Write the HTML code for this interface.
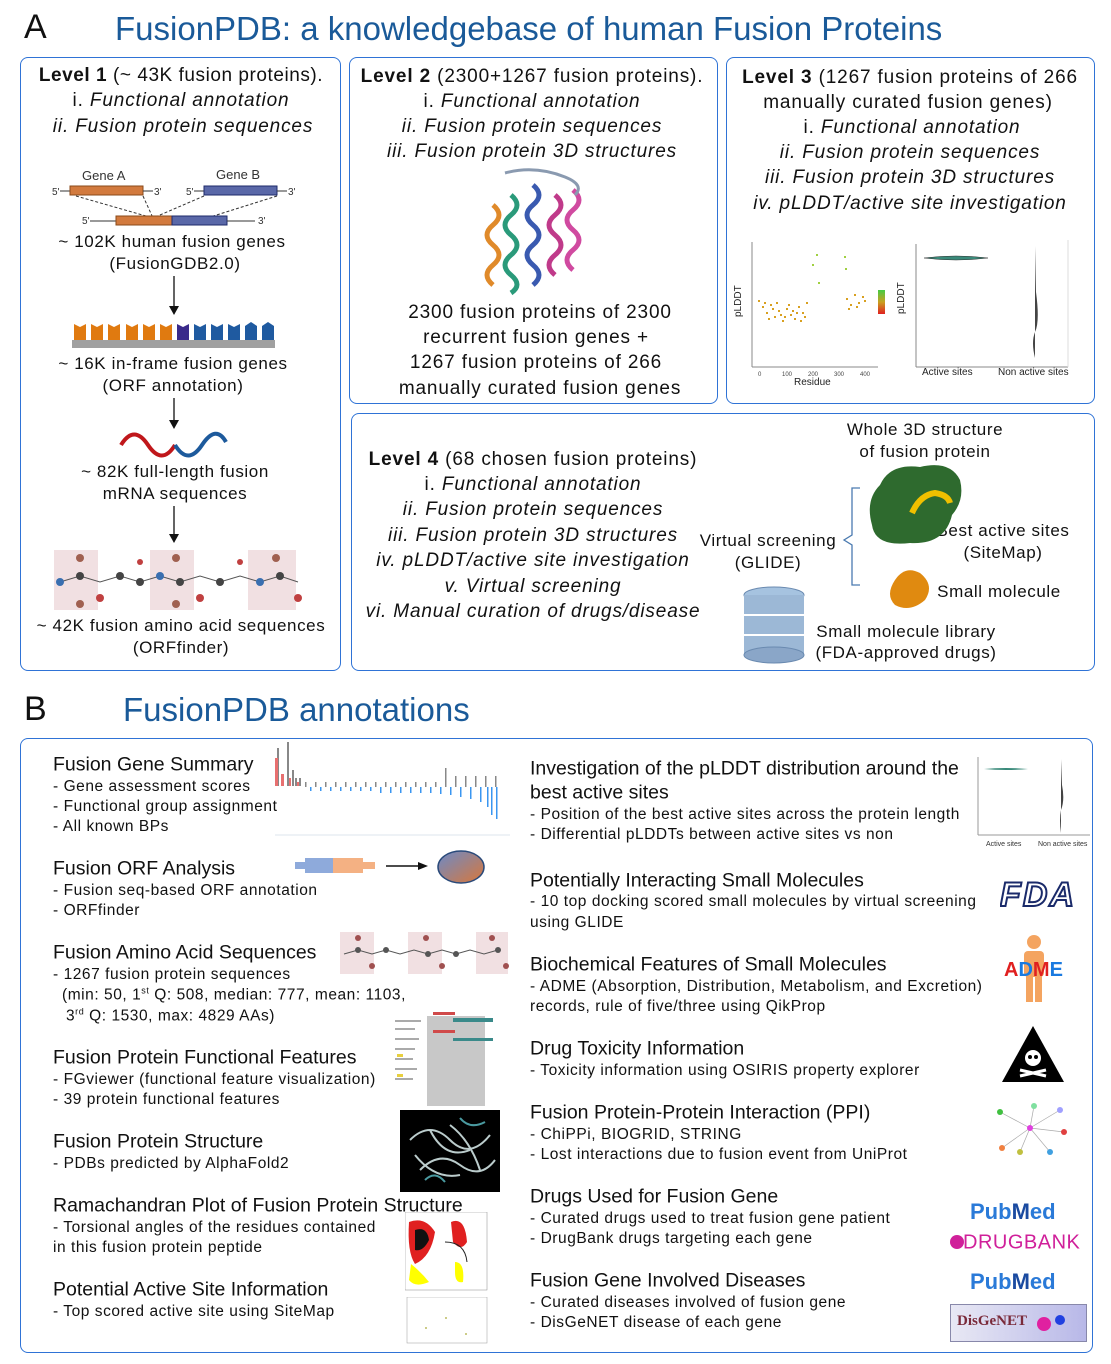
<!DOCTYPE html>
<html><head><meta charset="utf-8"><style>
body{margin:0;width:1111px;height:1364px;background:#fff;position:relative;overflow:hidden;font-family:"Liberation Sans",sans-serif;color:#111}
.p{position:absolute;border:1.5px solid #2f73d6;border-radius:8px;box-sizing:border-box}
.c{position:absolute;white-space:nowrap;transform:translate(-50%,-50%);font-size:19px;letter-spacing:.85px}
.m{font-size:17px!important;letter-spacing:.6px}
.n{font-size:17px!important;letter-spacing:.6px}
.l{position:absolute;white-space:nowrap;transform:translateY(-50%)}
.h{font-size:19.5px}
.s{font-size:15.5px;letter-spacing:.55px}
i{font-style:italic}
.big{position:absolute;font-size:34px;color:#111}
.ttl{position:absolute;font-size:33px;color:#1a5a99;white-space:nowrap;transform:translateY(-50%)}
svg{position:absolute}
</style></head><body>
<div class="big" style="left:24px;top:8px">A</div>
<div class="ttl" style="left:115px;top:29px">FusionPDB: a knowledgebase of human Fusion Proteins</div>
<div class="big" style="left:24px;top:690px">B</div>
<div class="ttl" style="left:123px;top:710px">FusionPDB annotations</div>

<div class="p" style="left:20px;top:57px;width:321px;height:614px"></div>
<div class="p" style="left:349px;top:57px;width:369px;height:347px"></div>
<div class="p" style="left:726px;top:57px;width:369px;height:347px"></div>
<div class="p" style="left:351px;top:413px;width:744px;height:258px"></div>
<div class="p" style="left:20px;top:738px;width:1073px;height:615px"></div>

<!-- panel 1 -->
<div class="c" style="left:181px;top:76px;letter-spacing:.55px"><b>Level 1</b> (~ 43K fusion proteins).</div>
<div class="c" style="left:181px;top:101px">i. <i>Functional annotation</i></div>
<div class="c" style="left:183px;top:127px"><i>ii. Fusion protein sequences</i></div>
<svg style="left:40px;top:160px" width="280" height="70">
<text x="42" y="20" font-size="13" fill="#333" font-family="Liberation Sans">Gene A</text>
<text x="176" y="19" font-size="13" fill="#333" font-family="Liberation Sans">Gene B</text>
<text x="12" y="35" font-size="10" fill="#333">5'</text><line x1="20" y1="31" x2="30" y2="31" stroke="#333"/>
<rect x="30" y="26" width="73" height="9" fill="#d27a3e" stroke="#8a4a1a"/>
<line x1="103" y1="31" x2="113" y2="31" stroke="#333"/><text x="114" y="35" font-size="10" fill="#333">3'</text>
<text x="146" y="35" font-size="10" fill="#333">5'</text><line x1="154" y1="31" x2="164" y2="31" stroke="#333"/>
<rect x="164" y="26" width="73" height="9" fill="#5a68a8" stroke="#1e2a6a"/>
<line x1="237" y1="31" x2="247" y2="31" stroke="#333"/><text x="248" y="35" font-size="10" fill="#333">3'</text>
<path d="M36 36 L113 58 M103 36 L113 58 M164 36 L113 58 M237 36 L167 58" stroke="#333" stroke-dasharray="3,2" fill="none"/>
<text x="42" y="64" font-size="10" fill="#333">5'</text><line x1="50" y1="61" x2="76" y2="61" stroke="#333"/>
<rect x="76" y="56" width="56" height="9" fill="#d27a3e" stroke="#8a4a1a"/><rect x="132" y="56" width="55" height="9" fill="#5a68a8" stroke="#1e2a6a"/>
<line x1="187" y1="61" x2="215" y2="61" stroke="#333"/><text x="218" y="64" font-size="10" fill="#333">3'</text>
</svg>
<div class="c m" style="left:172px;top:242px">~ 102K human fusion genes</div>
<div class="c m" style="left:175px;top:264px">(FusionGDB2.0)</div>
<svg style="left:165px;top:274px" width="20" height="300">
<line x1="9" y1="2" x2="9" y2="34" stroke="#111" stroke-width="1.3"/><path d="M4 32 L14 32 L9 41Z" fill="#111"/>
<line x1="9" y1="124" x2="9" y2="148" stroke="#111" stroke-width="1.3"/><path d="M4 146 L14 146 L9 155Z" fill="#111"/>
<line x1="9" y1="232" x2="9" y2="262" stroke="#111" stroke-width="1.3"/><path d="M4 260 L14 260 L9 269Z" fill="#111"/>
</svg>
<svg style="left:70px;top:318px" width="210" height="32">
<rect x="2" y="22" width="203" height="8" fill="#a0a0a0"/>
<g fill="#e07a10"><path d="M4 6l6 3 6-3v16H4z"/><path d="M21 6l6 3 6-3v16H21z"/><path d="M38 6l6 3 6-3v16H38z"/><path d="M56 6l6 3 6-3v16H56z"/><path d="M73 6l6 3 6-3v16H73z"/><path d="M90 6l6 3 6-3v16H90z"/></g>
<path d="M107 6l6 3 6-3v16h-12z" fill="#3a2a8a"/>
<g fill="#1f5aa0"><path d="M124 6l6 3 6-3v16h-12z"/><path d="M141 6l6 3 6-3v16h-12z"/><path d="M158 6l6 3 6-3v16h-12z"/><path d="M175 8l6-4 6 4v14h-12z"/><path d="M192 8l6-4 6 4v14h-12z"/></g>
</svg>
<div class="c m" style="left:173px;top:364px">~ 16K in-frame fusion genes</div>
<div class="c m" style="left:173px;top:386px">(ORF annotation)</div>
<svg style="left:118px;top:428px" width="112" height="34"><path d="M3 17 Q16 -4 30 17 T57 17" stroke="#c0171b" stroke-width="4" fill="none"/><path d="M57 17 Q70 38 84 17 T108 14" stroke="#1d5a9c" stroke-width="4" fill="none"/></svg>
<div class="c m" style="left:175px;top:472px">~ 82K full-length fusion</div>
<div class="c m" style="left:175px;top:494px">mRNA sequences</div>
<svg style="left:52px;top:548px" width="250" height="64">
<rect x="2" y="2" width="44" height="60" fill="#f1e0e2"/><rect x="98" y="2" width="44" height="60" fill="#f1e0e2"/><rect x="196" y="2" width="48" height="60" fill="#f1e0e2"/>
<path d="M8 34 L28 28 L48 34 L68 28 L88 34 L108 28 L128 34 L148 28 L168 34 L188 28 L208 34 L228 28 L246 34" stroke="#555" fill="none"/>
<g fill="#444"><circle cx="28" cy="28" r="4"/><circle cx="68" cy="28" r="4"/><circle cx="128" cy="34" r="4"/><circle cx="168" cy="34" r="4"/><circle cx="228" cy="28" r="4"/><circle cx="88" cy="34" r="4"/></g>
<g fill="#3a6fb0"><circle cx="8" cy="34" r="4"/><circle cx="108" cy="28" r="4"/><circle cx="208" cy="34" r="4"/></g>
<g fill="#c04040"><circle cx="48" cy="50" r="4"/><circle cx="148" cy="50" r="4"/><circle cx="246" cy="50" r="4"/><circle cx="88" cy="14" r="3"/><circle cx="188" cy="14" r="3"/></g>
<g fill="#a06050"><circle cx="28" cy="10" r="4"/><circle cx="124" cy="10" r="4"/><circle cx="224" cy="10" r="4"/><circle cx="28" cy="56" r="4"/><circle cx="124" cy="56" r="4"/></g>
</svg>
<div class="c m" style="left:181px;top:626px">~ 42K fusion amino acid sequences</div>
<div class="c m" style="left:181px;top:648px">(ORFfinder)</div>

<!-- panel 2 -->
<div class="c" style="left:532px;top:77px"><b>Level 2</b> (2300+1267 fusion proteins).</div>
<div class="c" style="left:532px;top:102px">i. <i>Functional annotation</i></div>
<div class="c" style="left:532px;top:127px"><i>ii. Fusion protein sequences</i></div>
<div class="c" style="left:532px;top:152px"><i>iii. Fusion protein 3D structures</i></div>
<svg style="left:475px;top:165px" width="130" height="135">
<g fill="none" stroke-width="5">
<path d="M18 40 Q30 50 18 60 Q6 70 18 80 Q30 90 18 100 Q6 110 18 120" stroke="#e08a2a"/>
<path d="M36 30 Q48 40 36 50 Q24 60 36 70 Q48 80 36 90 Q24 100 36 110 Q48 120 36 128" stroke="#2a9a7a"/>
<path d="M58 20 Q70 30 58 40 Q46 50 58 60 Q70 70 58 80 Q46 90 58 100 Q70 110 58 120" stroke="#3a5ab0"/>
<path d="M80 30 Q92 40 80 50 Q68 60 80 70 Q92 80 80 90 Q68 100 80 110" stroke="#c03a8a"/>
<path d="M98 25 Q110 35 98 45 Q86 55 98 65 Q110 75 98 85 Q86 95 98 105" stroke="#d04aa0"/>
<path d="M30 8 Q60 0 90 12 Q110 20 100 30" stroke="#8a9ab0" stroke-width="3"/>
</g></svg>
<div class="c" style="left:540px;top:313px">2300 fusion proteins of 2300</div>
<div class="c" style="left:536px;top:338px">recurrent fusion genes +</div>
<div class="c" style="left:536px;top:363px">1267 fusion proteins of 266</div>
<div class="c" style="left:540px;top:389px">manually curated fusion genes</div>

<!-- panel 3 -->
<div class="c" style="left:910px;top:78px"><b>Level 3</b> (1267 fusion proteins of 266</div>
<div class="c" style="left:908px;top:103px">manually curated fusion genes)</div>
<div class="c" style="left:912px;top:128px">i. <i>Functional annotation</i></div>
<div class="c" style="left:910px;top:153px"><i>ii. Fusion protein sequences</i></div>
<div class="c" style="left:910px;top:178px"><i>iii. Fusion protein 3D structures</i></div>
<div class="c" style="left:910px;top:204px"><i>iv. pLDDT/active site investigation</i></div>
<svg style="left:728px;top:232px" width="360" height="160" font-family="Liberation Sans">
<line x1="24" y1="10" x2="24" y2="135" stroke="#888"/><line x1="24" y1="135" x2="150" y2="135" stroke="#888"/>
<text x="13" y="85" font-size="10" transform="rotate(-90 13 85)" fill="#222">pLDDT</text>
<text x="66" y="153" font-size="10" fill="#222">Residue</text>
<text x="30" y="144" font-size="6" fill="#444">0</text><text x="54" y="144" font-size="6" fill="#444">100</text><text x="80" y="144" font-size="6" fill="#444">200</text><text x="106" y="144" font-size="6" fill="#444">300</text><text x="132" y="144" font-size="6" fill="#444">400</text>
<g fill="#d8a020">
<rect x="30" y="68" width="2" height="2"/><rect x="34" y="74" width="2" height="2"/><rect x="38" y="80" width="2" height="2"/><rect x="42" y="72" width="2" height="2"/><rect x="46" y="84" width="2" height="2"/><rect x="50" y="78" width="2" height="2"/><rect x="54" y="88" width="2" height="2"/><rect x="58" y="76" width="2" height="2"/><rect x="62" y="82" width="2" height="2"/><rect x="66" y="86" width="2" height="2"/><rect x="70" y="74" width="2" height="2"/><rect x="74" y="80" width="2" height="2"/><rect x="78" y="70" width="2" height="2"/><rect x="36" y="70" width="2" height="2"/><rect x="44" y="76" width="2" height="2"/><rect x="52" y="82" width="2" height="2"/><rect x="60" y="72" width="2" height="2"/><rect x="68" y="80" width="2" height="2"/><rect x="76" y="84" width="2" height="2"/><rect x="40" y="86" width="2" height="2"/><rect x="48" y="70" width="2" height="2"/><rect x="56" y="84" width="2" height="2"/><rect x="64" y="78" width="2" height="2"/><rect x="72" y="88" width="2" height="2"/>
<rect x="118" y="66" width="2" height="2"/><rect x="122" y="72" width="2" height="2"/><rect x="126" y="62" width="2" height="2"/><rect x="130" y="70" width="2" height="2"/><rect x="134" y="64" width="2" height="2"/><rect x="120" y="76" width="2" height="2"/><rect x="128" y="74" width="2" height="2"/><rect x="136" y="68" width="2" height="2"/>
</g>
<g fill="#a0d040"><rect x="84" y="32" width="2" height="2"/><rect x="88" y="22" width="2" height="2"/><rect x="90" y="50" width="2" height="2"/><rect x="116" y="24" width="2" height="2"/><rect x="117" y="36" width="2" height="2"/></g>
<rect x="150" y="58" width="7" height="24" fill="url(#g1)"/>
<defs><linearGradient id="g1" x1="0" y1="0" x2="0" y2="1"><stop offset="0" stop-color="#4c4"/><stop offset=".5" stop-color="#c9a020"/><stop offset="1" stop-color="#e02020"/></linearGradient></defs>
<line x1="188" y1="12" x2="188" y2="135" stroke="#888"/><line x1="188" y1="135" x2="340" y2="135" stroke="#888"/><line x1="340" y1="8" x2="340" y2="135" stroke="#ddd"/>
<text x="176" y="82" font-size="10" transform="rotate(-90 176 82)" fill="#222">pLDDT</text>
<path d="M196 26 Q228 22 260 26 Q228 30 196 26Z" fill="#3a8a7a" stroke="#333" stroke-width=".5"/>
<path d="M307 14 L308 60 Q312 90 307 100 Q303 110 307 126 Z" fill="#444"/>
<text x="194" y="143" font-size="10" fill="#222">Active sites</text><text x="270" y="143" font-size="10" fill="#222">Non active sites</text>
</svg>

<!-- panel 4 -->
<div class="c" style="left:533px;top:460px"><b>Level 4</b> (68 chosen fusion proteins)</div>
<div class="c" style="left:533px;top:485px">i. <i>Functional annotation</i></div>
<div class="c" style="left:533px;top:510px"><i>ii. Fusion protein sequences</i></div>
<div class="c" style="left:533px;top:536px"><i>iii. Fusion protein 3D structures</i></div>
<div class="c" style="left:533px;top:561px"><i>iv. pLDDT/active site investigation</i></div>
<div class="c" style="left:533px;top:587px"><i>v. Virtual screening</i></div>
<div class="c" style="left:533px;top:612px"><i>vi. Manual curation of drugs/disease</i></div>
<div class="c n" style="left:768px;top:541px">Virtual screening</div>
<div class="c n" style="left:768px;top:563px">(GLIDE)</div>
<div class="c n" style="left:925px;top:430px">Whole 3D structure</div>
<div class="c n" style="left:925px;top:452px">of fusion protein</div>
<div class="c n" style="left:1003px;top:531px">Best active sites</div>
<div class="c n" style="left:1003px;top:553px">(SiteMap)</div>
<div class="c n" style="left:999px;top:592px">Small molecule</div>
<div class="c n" style="left:906px;top:632px">Small molecule library</div>
<div class="c n" style="left:906px;top:653px">(FDA-approved drugs)</div>
<svg style="left:740px;top:455px" width="240" height="215">
<path d="M120 33 L112 33 L112 80 L104 85 L112 90 L112 130 L120 130" stroke="#4a7ab0" fill="none" stroke-width="1.3"/>
<path d="M140 30 Q150 8 180 12 Q210 5 220 25 Q225 45 212 60 Q205 90 170 88 Q135 92 132 70 Q125 45 140 30Z" fill="#2e6a2e"/>
<path d="M172 58 Q180 40 195 38 Q208 40 210 48" stroke="#f0c000" stroke-width="6" fill="none"/>
<path d="M155 125 Q165 110 180 118 Q195 130 185 145 Q170 158 155 150 Q145 140 155 125Z" fill="#e08a10"/>
<ellipse cx="34" cy="140" rx="30" ry="8" fill="#a6c3e0" stroke="#6a8ab0"/>
<rect x="4" y="140" width="60" height="60" fill="#9cb8d6"/>
<g stroke="#fff" stroke-width="2"><line x1="4" y1="160" x2="64" y2="160"/><line x1="4" y1="180" x2="64" y2="180"/></g>
<ellipse cx="34" cy="200" rx="30" ry="8" fill="#8aa6c8" stroke="#6a8ab0"/>
</svg>

<!-- B left -->
<div class="l h" style="left:53px;top:765px">Fusion Gene Summary</div>
<div class="l s" style="left:53px;top:787px">- Gene assessment scores</div>
<div class="l s" style="left:53px;top:807px">- Functional group assignment</div>
<div class="l s" style="left:53px;top:827px">- All known BPs</div>
<div class="l h" style="left:53px;top:869px">Fusion ORF Analysis</div>
<div class="l s" style="left:53px;top:891px">- Fusion seq-based ORF annotation</div>
<div class="l s" style="left:53px;top:911px">- ORFfinder</div>
<div class="l h" style="left:53px;top:953px">Fusion Amino Acid Sequences</div>
<div class="l s" style="left:53px;top:975px">- 1267 fusion protein sequences</div>
<div class="l s" style="left:62px;top:995px">(min: 50, 1<sup style="font-size:9px">st</sup> Q: 508, median: 777, mean: 1103,</div>
<div class="l s" style="left:66px;top:1016px">3<sup style="font-size:9px">rd</sup> Q: 1530, max: 4829 AAs)</div>
<div class="l h" style="left:53px;top:1058px">Fusion Protein Functional Features</div>
<div class="l s" style="left:53px;top:1080px">- FGviewer (functional feature visualization)</div>
<div class="l s" style="left:53px;top:1100px">- 39 protein functional features</div>
<div class="l h" style="left:53px;top:1142px">Fusion Protein Structure</div>
<div class="l s" style="left:53px;top:1164px">- PDBs predicted by AlphaFold2</div>
<div class="l h" style="left:53px;top:1206px">Ramachandran Plot of Fusion Protein Structure</div>
<div class="l s" style="left:53px;top:1228px">- Torsional angles of the residues contained</div>
<div class="l s" style="left:53px;top:1248px">in this fusion protein peptide</div>
<div class="l h" style="left:53px;top:1290px">Potential Active Site Information</div>
<div class="l s" style="left:53px;top:1312px">- Top scored active site using SiteMap</div>

<svg style="left:275px;top:740px" width="240" height="100">
<line x1="0" y1="95" x2="235" y2="95" stroke="#dde4ee"/>
<g fill="#888"><rect x="2" y="8" width="2" height="38"/><rect x="12" y="2" width="2" height="44"/><rect x="17" y="30" width="2" height="16"/><rect x="20" y="38" width="2" height="8"/><rect x="24" y="38" width="2" height="8"/></g>
<g fill="#e87070"><rect x="0" y="18" width="3" height="28"/><rect x="6" y="34" width="3" height="12"/><rect x="14" y="38" width="2" height="8"/><rect x="22" y="42" width="2" height="4"/></g>
<g fill="#888">
<rect x="30" y="42" width="1.5" height="5"/><rect x="40" y="42" width="1.5" height="5"/><rect x="50" y="42" width="1.5" height="5"/><rect x="60" y="42" width="1.5" height="5"/><rect x="70" y="42" width="1.5" height="5"/><rect x="80" y="42" width="1.5" height="5"/><rect x="90" y="42" width="1.5" height="5"/><rect x="100" y="42" width="1.5" height="5"/><rect x="110" y="42" width="1.5" height="5"/><rect x="120" y="42" width="1.5" height="5"/><rect x="130" y="42" width="1.5" height="5"/><rect x="140" y="42" width="1.5" height="5"/><rect x="150" y="42" width="1.5" height="5"/><rect x="160" y="42" width="1.5" height="5"/><rect x="170" y="28" width="1.5" height="19"/><rect x="180" y="36" width="1.5" height="11"/><rect x="190" y="36" width="1.5" height="11"/><rect x="200" y="36" width="1.5" height="11"/><rect x="210" y="36" width="1.5" height="11"/><rect x="220" y="36" width="1.5" height="11"/></g>
<g fill="#3a96f0">
<rect x="35" y="47" width="1.5" height="4"/><rect x="45" y="47" width="1.5" height="4"/><rect x="55" y="47" width="1.5" height="4"/><rect x="65" y="47" width="1.5" height="4"/><rect x="75" y="47" width="1.5" height="4"/><rect x="85" y="47" width="1.5" height="4"/><rect x="95" y="47" width="1.5" height="4"/><rect x="105" y="47" width="1.5" height="6"/><rect x="115" y="47" width="1.5" height="6"/><rect x="125" y="47" width="1.5" height="6"/><rect x="135" y="47" width="1.5" height="6"/><rect x="145" y="47" width="1.5" height="6"/><rect x="155" y="47" width="1.5" height="6"/><rect x="165" y="47" width="1.5" height="7"/><rect x="175" y="47" width="1.5" height="8"/><rect x="185" y="47" width="1.5" height="10"/><rect x="195" y="47" width="1.5" height="12"/><rect x="205" y="47" width="1.5" height="15"/><rect x="212" y="47" width="1.5" height="20"/><rect x="216" y="47" width="1.5" height="28"/><rect x="221" y="47" width="1.5" height="32"/></g>
</svg>
<svg style="left:290px;top:848px" width="200" height="40">
<rect x="5" y="14" width="10" height="7" fill="#8eaadb"/><rect x="15" y="10" width="28" height="15" fill="#8eaadb"/><rect x="43" y="10" width="30" height="15" fill="#f4b183"/><rect x="73" y="14" width="12" height="7" fill="#f4b183"/>
<line x1="96" y1="18" x2="130" y2="18" stroke="#111" stroke-width="1.5"/><path d="M128 14 L138 18 L128 22Z" fill="#111"/>
<defs><linearGradient id="g2" x1="0" y1="0" x2="1" y2="1"><stop offset="0" stop-color="#6b8bc9"/><stop offset="1" stop-color="#d9773a"/></linearGradient></defs>
<ellipse cx="171" cy="19" rx="23" ry="16" fill="url(#g2)" stroke="#2a4a7a" stroke-width="1.5"/>
</svg>
<svg style="left:340px;top:930px" width="170" height="46">
<rect x="0" y="2" width="34" height="42" fill="#f1e0e2"/><rect x="68" y="2" width="34" height="42" fill="#f1e0e2"/><rect x="136" y="2" width="32" height="42" fill="#f1e0e2"/>
<path d="M4 24 L18 20 L32 24 L46 20 L60 24 L74 20 L88 24 L102 20 L116 24 L130 20 L144 24 L158 20" stroke="#555" fill="none"/>
<g fill="#555"><circle cx="18" cy="20" r="3"/><circle cx="46" cy="20" r="3"/><circle cx="88" cy="24" r="3"/><circle cx="116" cy="24" r="3"/><circle cx="158" cy="20" r="3"/></g>
<g fill="#a05050"><circle cx="18" cy="8" r="3"/><circle cx="86" cy="8" r="3"/><circle cx="152" cy="8" r="3"/><circle cx="32" cy="36" r="3"/><circle cx="102" cy="36" r="3"/><circle cx="166" cy="36" r="3"/></g>
</svg>
<svg style="left:393px;top:1008px" width="110" height="100">
<rect x="34" y="8" width="58" height="90" fill="#c8c8c8"/>
<g fill="#3a8a8a"><rect x="60" y="10" width="40" height="4"/><rect x="60" y="30" width="40" height="3"/></g>
<g fill="#d04a4a"><rect x="40" y="4" width="22" height="3"/><rect x="40" y="22" width="22" height="3"/></g>
<g fill="#aaa"><rect x="2" y="12" width="26" height="2"/><rect x="2" y="20" width="20" height="2"/><rect x="2" y="30" width="24" height="2"/><rect x="2" y="40" width="20" height="2"/><rect x="2" y="50" width="18" height="2"/><rect x="2" y="60" width="22" height="2"/><rect x="2" y="70" width="18" height="2"/></g>
<g fill="#e8d040"><rect x="4" y="46" width="6" height="3"/><rect x="4" y="66" width="6" height="3"/></g>
</svg>
<svg style="left:400px;top:1110px" width="100" height="82"><rect width="100" height="82" fill="#000"/>
<g stroke="#bcc" stroke-width="2" fill="none"><path d="M10 30 Q30 10 50 30 T90 25"/><path d="M20 60 Q40 40 60 55 T95 50"/><path d="M30 20 Q45 50 70 40"/><path d="M15 45 Q35 70 60 65"/><path d="M50 15 Q70 30 80 60"/></g>
<g stroke="#4a9aa0" stroke-width="2" fill="none"><path d="M25 70 Q35 60 45 72"/><path d="M60 8 Q70 20 85 12"/></g></svg>
<svg style="left:405px;top:1212px" width="85" height="80">
<rect x="0" y="0" width="82" height="78" fill="#fff" stroke="#888" stroke-width=".5"/>
<path d="M4 10 Q20 4 30 20 Q26 45 10 52 Q2 40 4 10Z" fill="#e02020"/><path d="M6 52 Q16 60 24 70 Q10 76 4 68Z" fill="#ff0"/>
<path d="M10 18 Q22 14 24 28 Q18 40 10 38Z" fill="#111"/>
<path d="M46 10 Q60 4 62 30 Q56 40 48 30Z" fill="#e02020"/><path d="M50 50 Q60 50 58 70 Q50 72 50 60Z" fill="#ff0"/>
<path d="M40 30 Q60 30 62 50" stroke="#222" fill="none"/>
</svg>
<svg style="left:405px;top:1297px" width="85" height="48"><rect x="2" y="0" width="80" height="46" fill="#fff" stroke="#999" stroke-width=".5"/><g fill="#cc8"><rect x="20" y="30" width="2" height="2"/><rect x="40" y="20" width="2" height="2"/><rect x="60" y="36" width="2" height="2"/></g></svg>

<!-- B right -->
<div class="l h" style="left:530px;top:769px">Investigation of the pLDDT distribution around the</div>
<div class="l h" style="left:530px;top:793px">best active sites</div>
<div class="l s" style="left:530px;top:815px">- Position of the best active sites across the protein length</div>
<div class="l s" style="left:530px;top:835px">- Differential pLDDTs between active sites vs non</div>
<div class="l h" style="left:530px;top:881px">Potentially Interacting Small Molecules</div>
<div class="l s" style="left:530px;top:902px">- 10 top docking scored small molecules by virtual screening</div>
<div class="l s" style="left:530px;top:923px">using GLIDE</div>
<div class="l h" style="left:530px;top:965px">Biochemical Features of Small Molecules</div>
<div class="l s" style="left:530px;top:987px">- ADME (Absorption, Distribution, Metabolism, and Excretion)</div>
<div class="l s" style="left:530px;top:1007px">records, rule of five/three using QikProp</div>
<div class="l h" style="left:530px;top:1049px">Drug Toxicity Information</div>
<div class="l s" style="left:530px;top:1071px">- Toxicity information using OSIRIS property explorer</div>
<div class="l h" style="left:530px;top:1113px">Fusion Protein-Protein Interaction (PPI)</div>
<div class="l s" style="left:530px;top:1135px">- ChiPPi, BIOGRID, STRING</div>
<div class="l s" style="left:530px;top:1155px">- Lost interactions due to fusion event from UniProt</div>
<div class="l h" style="left:530px;top:1197px">Drugs Used for Fusion Gene</div>
<div class="l s" style="left:530px;top:1219px">- Curated drugs used to treat fusion gene patient</div>
<div class="l s" style="left:530px;top:1239px">- DrugBank drugs targeting each gene</div>
<div class="l h" style="left:530px;top:1281px">Fusion Gene Involved Diseases</div>
<div class="l s" style="left:530px;top:1303px">- Curated diseases involved of fusion gene</div>
<div class="l s" style="left:530px;top:1323px">- DisGeNET disease of each gene</div>

<svg style="left:968px;top:755px" width="125" height="95" font-family="Liberation Sans">
<line x1="10" y1="2" x2="10" y2="80" stroke="#999"/><line x1="10" y1="80" x2="122" y2="80" stroke="#999"/>
<path d="M16 14 Q38 12 60 14 Q38 16 16 14Z" fill="#3a8a7a"/><path d="M93 4 L94 30 Q97 45 93 55 Q91 65 93 78Z" fill="#444"/>
<text x="18" y="91" font-size="7" fill="#333">Active sites</text><text x="70" y="91" font-size="7" fill="#333">Non active sites</text>
</svg>
<svg style="left:1000px;top:877px" width="76" height="32"><text x="0" y="29" font-size="34" font-weight="bold" font-style="italic" fill="none" stroke="#1a2a6a" stroke-width="2" font-family="Liberation Sans" textLength="74">FDA</text></svg>
<svg style="left:1000px;top:934px" width="70" height="70">
<circle cx="34" cy="8" r="7" fill="#f4a460"/><rect x="24" y="17" width="20" height="26" rx="4" fill="#f4a460"/><rect x="26" y="42" width="7" height="26" fill="#f4a460"/><rect x="35" y="42" width="7" height="26" fill="#f4a460"/>
<text x="4" y="42" font-size="20" font-weight="bold" font-family="Liberation Sans"><tspan fill="#e02020">A</tspan><tspan fill="#1a7ae0">D</tspan><tspan fill="#e02020">M</tspan><tspan fill="#1a7ae0">E</tspan></text>
</svg>
<svg style="left:1000px;top:1024px" width="66" height="60"><path d="M33 2 L64 58 L2 58Z" fill="#000"/><circle cx="33" cy="34" r="8" fill="#fff"/><path d="M20 46 L46 52 M46 46 L20 52" stroke="#fff" stroke-width="3"/><circle cx="30" cy="33" r="2"/><circle cx="36" cy="33" r="2"/></svg>
<svg style="left:990px;top:1102px" width="80" height="56">
<g stroke="#aaa" stroke-width=".7"><line x1="40" y1="26" x2="10" y2="10"/><line x1="40" y1="26" x2="70" y2="8"/><line x1="40" y1="26" x2="12" y2="46"/><line x1="40" y1="26" x2="60" y2="50"/><line x1="40" y1="26" x2="74" y2="30"/><line x1="40" y1="26" x2="30" y2="50"/><line x1="40" y1="26" x2="44" y2="4"/></g>
<g><circle cx="40" cy="26" r="3" fill="#e040e0"/><circle cx="10" cy="10" r="3" fill="#40c040"/><circle cx="70" cy="8" r="3" fill="#a0a0ff"/><circle cx="12" cy="46" r="3" fill="#f08040"/><circle cx="60" cy="50" r="3" fill="#40a0e0"/><circle cx="74" cy="30" r="3" fill="#e04040"/><circle cx="30" cy="50" r="3" fill="#c0c040"/><circle cx="44" cy="4" r="3" fill="#80e0a0"/></g></svg>
<div class="l" style="left:970px;top:1212px;font-size:22px;font-weight:bold;color:#2a7ad8">Pub<span style="color:#1a4aa0">M</span>ed</div>
<div style="position:absolute;left:950px;top:1235px;width:14px;height:14px;border-radius:50%;background:#d0209a"></div>
<div class="l" style="left:963px;top:1243px;font-size:20px;color:#d0209a;letter-spacing:.5px">DRUGBANK</div>
<div class="l" style="left:970px;top:1282px;font-size:22px;font-weight:bold;color:#2a7ad8">Pub<span style="color:#1a4aa0">M</span>ed</div>
<div style="position:absolute;left:950px;top:1304px;width:135px;height:36px;background:linear-gradient(90deg,#e8e8f4,#b8b8e8);border:1px solid #88a;"><span style="position:absolute;left:6px;top:8px;font-family:'Liberation Serif',serif;font-weight:bold;font-size:15px;color:#7a2a3a">DisGeNET</span><span style="position:absolute;left:86px;top:12px;width:14px;height:14px;border-radius:50%;background:#e020a0"></span><span style="position:absolute;left:104px;top:10px;width:10px;height:10px;border-radius:50%;background:#2040e0"></span></div>
</body></html>
